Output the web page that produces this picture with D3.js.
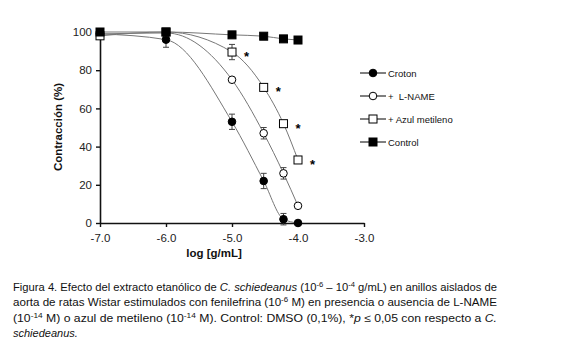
<!DOCTYPE html>
<html lang="es">
<head>
<meta charset="UTF-8">
<script src="https://d3js.org/d3.v7.min.js"></script>
<title>Figura 4</title>
<style>
  body { margin: 0; background: #fff; }
  svg { display: block; }
  .tick text { font-family: "Liberation Sans", Arial, sans-serif; font-size: 11.5px; fill: #222; }
</style>
</head>
<body>
<svg id="fig" width="579" height="351"></svg>
<script>
// data
const logDose = [-7, -6, -5, -4.52, -4.22, -4];
const croton = [99, 96, 53, 22, 2, 0];
const crotonErr = [0, 4, 4, 4, 3, 0];
const lname = [99, 99.5, 75, 47, 26, 9];
const lnameErr = [0, 0, 0, 3, 3, 0];
const azul = [98, 100, 89.5, 71, 52, 33];
const azulErr = [0, 0, 4, 0, 0, 0];
const azulStar = [false, false, true, true, true, true];
const control = [100, 100, 98.5, 97.8, 96.4, 95.8];
const controlErr = [0, 0, 0, 0, 0, 0];
const xTicks = [-7, -6, -5, -4, -3];
const yTicks = [0, 20, 40, 60, 80, 100];
const seriesNames = ["Croton", "+\u00a0\u00a0L-NAME", "+ Azul metileno", "Control"];

const svg = d3.select("#fig");
const x = d3.scaleLinear().domain([-7, -3]).range([100, 364]);
const y = d3.scaleLinear().domain([0, 100]).range([223, 32]);

const series = [
  {name: seriesNames[0], vals: croton, err: crotonErr, shape: "circle", fill: "#000"},
  {name: seriesNames[1], vals: lname, err: lnameErr, shape: "circle", fill: "#fff"},
  {name: seriesNames[2], vals: azul, err: azulErr, shape: "square", fill: "#fff"},
  {name: seriesNames[3], vals: control, err: controlErr, shape: "square", fill: "#000"}
];

// axes
const xAxis = svg.append("g").attr("transform", "translate(0,223)")
  .call(d3.axisBottom(x).tickValues(xTicks).tickFormat(d => d.toFixed(1)).tickSize(4).tickSizeOuter(0));
const yAxis = svg.append("g").attr("transform", "translate(100,0)")
  .call(d3.axisLeft(y).tickValues(yTicks).tickSize(4).tickSizeOuter(0));
[xAxis, yAxis].forEach(a => {
  a.select(".domain").attr("stroke", "#111").attr("stroke-width", 1.6);
  a.selectAll(".tick line").attr("stroke", "#111").attr("stroke-width", 1.4);
});
xAxis.selectAll(".tick text").attr("dy", "1.05em");
yAxis.selectAll(".tick text").attr("dx", "-1px");

svg.append("text")
  .attr("transform", "translate(62,127) rotate(-90)")
  .attr("text-anchor", "middle")
  .style("font-family", "Liberation Sans, Arial, sans-serif")
  .style("font-size", "11.5px").style("font-weight", "bold").attr("fill", "#111")
  .text("Contracción (%)");

svg.append("text")
  .attr("x", 214).attr("y", 257)
  .attr("text-anchor", "middle")
  .style("font-family", "Liberation Sans, Arial, sans-serif")
  .style("font-size", "11.5px").style("font-weight", "bold").attr("fill", "#111")
  .text("log [g/mL]");

// fitted curves
const line = d3.line().x(d => x(d[0])).y(d => y(d[1])).curve(d3.curveMonotoneX);
series.forEach(s => {
  svg.append("path")
    .attr("d", line(logDose.map((d, i) => [d, s.vals[i]])))
    .attr("fill", "none").attr("stroke", "#777").attr("stroke-width", 1);
});

function drawMarker(g, shape, fill, cx, cy) {
  if (shape === "circle") {
    g.append("circle").attr("cx", cx).attr("cy", cy).attr("r", 3.8)
      .attr("fill", fill).attr("stroke", "#000").attr("stroke-width", 1);
  } else {
    g.append("rect").attr("x", cx - 4).attr("y", cy - 4).attr("width", 8).attr("height", 8)
      .attr("fill", fill).attr("stroke", "#000").attr("stroke-width", 1);
  }
}

// error bars and markers
series.forEach(s => {
  const g = svg.append("g");
  logDose.forEach((d, i) => {
    const e = s.err[i];
    if (e > 0) {
      const cx = x(d);
      g.append("line").attr("x1", cx).attr("x2", cx)
        .attr("y1", y(s.vals[i] - e)).attr("y2", y(s.vals[i] + e)).attr("stroke", "#444");
      [s.vals[i] - e, s.vals[i] + e].forEach(v => {
        g.append("line").attr("x1", cx - 3).attr("x2", cx + 3)
          .attr("y1", y(v)).attr("y2", y(v)).attr("stroke", "#444");
      });
    }
  });
  logDose.forEach((d, i) => drawMarker(g, s.shape, s.fill, x(d), y(s.vals[i])));
});

// significance marks
logDose.forEach((d, i) => {
  if (azulStar[i]) {
    svg.append("text").attr("x", x(d) + 12).attr("y", y(azul[i]) + 9)
      .style("font-family", "Liberation Sans, Arial, sans-serif")
      .style("font-size", "13px").style("font-weight", "bold").text("*");
  }
});

// legend
const legend = svg.append("g");
series.forEach((s, i) => {
  const ly = 73 + i * 23;
  legend.append("line").attr("x1", 360).attr("x2", 386).attr("y1", ly).attr("y2", ly)
    .attr("stroke", "#000").attr("stroke-width", 1);
  drawMarker(legend, s.shape, s.fill, 373, ly);
  legend.append("text").attr("x", 388).attr("y", ly + 3.5)
    .style("font-family", "Liberation Sans, Arial, sans-serif")
    .style("font-size", "9.5px").attr("fill", "#111").text(s.name);
});

// caption
const cap = svg.append("g")
  .style("font-family", "'Liberation Sans Narrow', 'Liberation Sans', Arial, sans-serif")
  .style("font-size", "11px").attr("fill", "#111");

function capLine(yy, parts, justify) {
  const t = cap.append("text").attr("x", 13).attr("y", yy);
  parts.forEach(p => {
    const ts = t.append("tspan").text(p.t);
    if (p.i) ts.style("font-style", "italic");
    if (p.sup) ts.attr("dy", -4).style("font-size", "7.5px");
    if (p.after) ts.attr("dy", 4);
  });
  if (justify) t.attr("textLength", 484).attr("lengthAdjust", "spacingAndGlyphs");
}

capLine(290.5, [
  {t: "Figura 4. Efecto del extracto etanólico de "}, {t: "C. schiedeanus", i: true},
  {t: " (10"}, {t: "-6", sup: true}, {t: " – 10", after: true}, {t: "-4", sup: true},
  {t: " g/mL) en anillos aislados de", after: true}
], true);
capLine(306, [
  {t: "aorta de ratas Wistar estimulados con fenilefrina (10"}, {t: "-6", sup: true},
  {t: " M) en presencia o ausencia de L-NAME", after: true}
], true);
capLine(321.5, [
  {t: "(10"}, {t: "-14", sup: true}, {t: " M) o azul de metileno (10", after: true},
  {t: "-14", sup: true}, {t: " M). Control: DMSO (0,1%), *", after: true},
  {t: "p", i: true}, {t: " ≤ 0,05 con respecto a "}, {t: "C.", i: true}
], true);
capLine(336.5, [{t: "schiedeanus.", i: true}], false);
</script>
</body>
</html>
